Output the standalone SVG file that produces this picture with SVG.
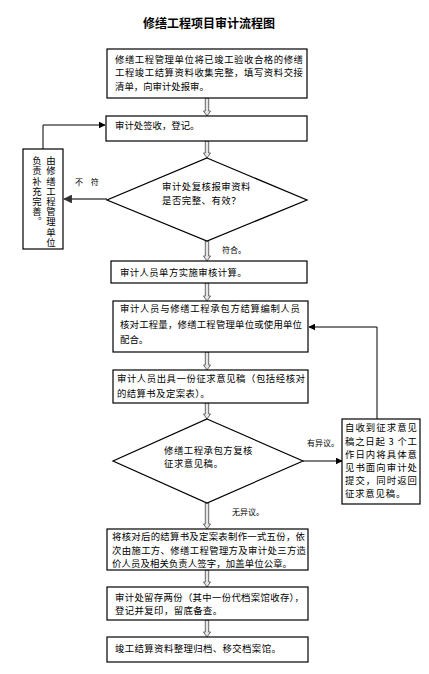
<svg xmlns="http://www.w3.org/2000/svg" width="429" height="674" viewBox="0 0 429 674">
<defs>
<style>
.box{fill:#fff;stroke:#000;stroke-width:1.2}
.t{font-family:"Noto Sans CJK SC","Liberation Sans",sans-serif;font-size:9.4px;fill:#000}
.s{font-family:"Noto Sans CJK SC","Liberation Sans",sans-serif;font-size:8px;fill:#000}
.ttl{font-family:"Noto Sans CJK SC","Liberation Sans",sans-serif;font-size:12px;font-weight:bold;fill:#000}
.da{fill:#e6e6e6;stroke:#444;stroke-width:0.8}
.ln{fill:none;stroke:#000;stroke-width:1}
</style>
<marker id="ah" viewBox="0 0 10 10" refX="9" refY="5" markerWidth="7" markerHeight="7" markerUnits="userSpaceOnUse" orient="auto">
<path d="M0,0 L10,5 L0,10 Z" fill="#000"/>
</marker>
<marker id="ahg" viewBox="0 0 10 10" refX="9" refY="5" markerWidth="4" markerHeight="4" orient="auto">
<path d="M0,0 L10,5 L0,10 Z" fill="#333"/>
</marker>
</defs>
<rect width="429" height="674" fill="#fff"/>
<text class="ttl" x="209" y="28" text-anchor="middle">修缮工程项目审计流程图</text>

<g id="connectors">
<path class="da" d="M205.3,98 V111 H203.5 L207,116 L210.5,111 H208.7 V98 Z"/>
<path class="da" d="M205.3,141 V153 H203.5 L207,158 L210.5,153 H208.7 V141 Z"/>
<path class="da" d="M205.3,241 V256 H203.5 L207,261 L210.5,256 H208.7 V241 Z"/>
<path class="da" d="M205.3,283 V296 H203.5 L207,301 L210.5,296 H208.7 V283 Z"/>
<path class="da" d="M205.3,352 V365 H203.5 L207,370 L210.5,365 H208.7 V352 Z"/>
<path class="da" d="M205.3,403 V414 H203.5 L207,419 L210.5,414 H208.7 V403 Z"/>
<path class="da" d="M205.3,503 V524 H203.5 L207,529 L210.5,524 H208.7 V503 Z"/>
<path class="da" d="M205.3,570 V582 H203.5 L207,587 L210.5,582 H208.7 V570 Z"/>
<path class="da" d="M205.3,620 V632 H203.5 L207,637 L210.5,632 H208.7 V620 Z"/>
<line x1="107" y1="199" x2="64" y2="199" stroke="#777" stroke-width="2.2" marker-end="url(#ahg)"/>
<polyline class="ln" points="43,149 43,125 105,125" marker-end="url(#ah)"/>
<polyline class="ln" points="377,419 377,327 309,327" marker-end="url(#ah)"/>
<line class="ln" x1="303" y1="461" x2="342" y2="461" marker-end="url(#ah)"/>
<text class="s" x="75" y="185" letter-spacing="3">不 符</text>
<text class="s" x="222" y="253">符合。</text>
<text class="s" x="307" y="446">有异议。</text>
<text class="s" x="232" y="515">无异议。</text>
</g>

<g id="n1">
<rect class="box" x="107" y="49" width="200" height="49"/>
<text class="t" x="115" y="63" textLength="188" lengthAdjust="spacing">修缮工程管理单位将已竣工验收合格的修缮</text>
<text class="t" x="115" y="76" textLength="188" lengthAdjust="spacing">工程竣工结算资料收集完整，填写资料交接</text>
<text class="t" x="115" y="90">清单，向审计处报审。</text>
</g>
<g id="n2">
<rect class="box" x="106" y="116" width="201" height="25"/>
<text class="t" x="115" y="129">审计处签收，登记。</text>
</g>
<g id="n3">
<polygon class="box" points="207,158 307,200 207,241 107,200"/>
<text class="t" x="162" y="190" letter-spacing="0.5">审计处复核报审资料</text>
<text class="t" x="162" y="204" letter-spacing="0.5">是否完整、有效？</text>
</g>
<g id="n4">
<rect class="box" x="23" y="149" width="40" height="100"/>
<text class="t" x="51" y="156" style="writing-mode:vertical-rl" letter-spacing="0.8">由修缮工程管理单位</text>
<text class="t" x="37" y="156" style="writing-mode:vertical-rl" letter-spacing="0.8">负责补充完善。</text>
</g>
<g id="n5">
<rect class="box" x="111" y="261" width="196" height="22"/>
<text class="t" x="120" y="276" letter-spacing="0.4">审计人员单方实施审核计算。</text>
</g>
<g id="n6">
<rect class="box" x="113" y="301" width="195" height="51"/>
<text class="t" x="120" y="312" textLength="180" lengthAdjust="spacing">审计人员与修缮工程承包方结算编制人员</text>
<text class="t" x="120" y="328" textLength="182" lengthAdjust="spacing">核对工程量，修缮工程管理单位或使用单位</text>
<text class="t" x="120" y="343">配合。</text>
</g>
<g id="n7">
<rect class="box" x="113" y="370" width="195" height="33"/>
<text class="t" x="117" y="382" textLength="188" lengthAdjust="spacing">审计人员出具一份征求意见稿（包括经核对</text>
<text class="t" x="117" y="397" letter-spacing="0.4">的结算书及定案表）。</text>
</g>
<g id="n8">
<polygon class="box" points="207,419 303,461 207,503 113,461"/>
<text class="t" x="164" y="454" letter-spacing="0.5">修缮工程承包方复核</text>
<text class="t" x="164" y="467" letter-spacing="0.5">征求意见稿。</text>
</g>
<g id="n9">
<rect class="box" x="342" y="419" width="78" height="85"/>
<text class="t" x="345" y="431" textLength="72" lengthAdjust="spacing">自收到征求意见</text>
<text class="t" x="345" y="445" textLength="72" lengthAdjust="spacing">稿之日起 3 个工</text>
<text class="t" x="345" y="458" textLength="72" lengthAdjust="spacing">作日内将具体意</text>
<text class="t" x="345" y="471" textLength="72" lengthAdjust="spacing">见书面向审计处</text>
<text class="t" x="345" y="484" textLength="72" lengthAdjust="spacing">提交，同时返回</text>
<text class="t" x="345" y="497" letter-spacing="0.8">征求意见稿。</text>
</g>
<g id="n10">
<rect class="box" x="107" y="529" width="201" height="41"/>
<text class="t" x="112" y="540" textLength="193" lengthAdjust="spacing">将核对后的结算书及定案表制作一式五份，依</text>
<text class="t" x="112" y="554" textLength="194" lengthAdjust="spacing">次由施工方、修缮工程管理方及审计处三方造</text>
<text class="t" x="112" y="567" textLength="180" lengthAdjust="spacing">价人员及相关负责人签字，加盖单位公章。</text>
</g>
<g id="n11">
<rect class="box" x="107" y="587" width="201" height="33"/>
<text class="t" x="115" y="601" textLength="189" lengthAdjust="spacing">审计处留存两份（其中一份代档案馆收存），</text>
<text class="t" x="115" y="614" letter-spacing="0.4">登记并复印，留底备查。</text>
</g>
<g id="n12">
<rect class="box" x="107" y="637" width="201" height="25"/>
<text class="t" x="115" y="652" letter-spacing="0.4">竣工结算资料整理归档、移交档案馆。</text>
</g>
</svg>
